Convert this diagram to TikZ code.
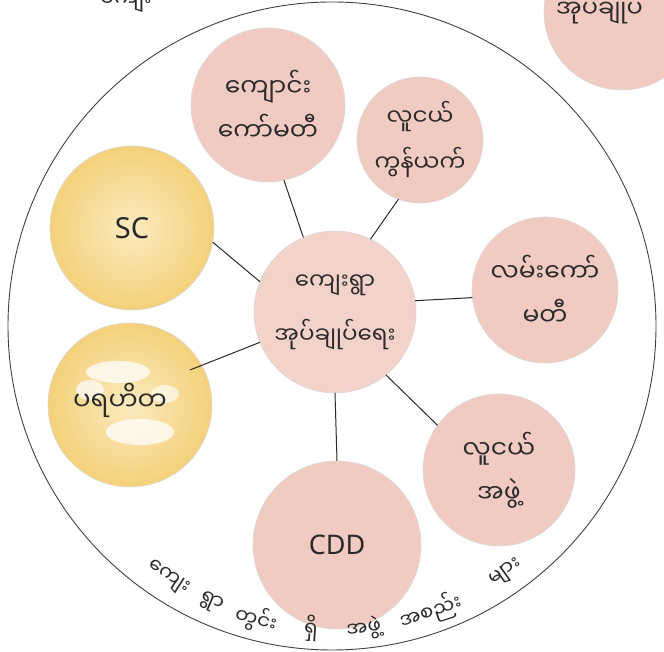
\documentclass[tikz,border=0pt]{standalone}
\usepackage{fontspec}
\setmainfont{Noto Sans}
\newfontfamily\mm[Script=Myanmar]{Noto Sans Myanmar UI}
\definecolor{pinkA}{HTML}{F1CBC2}
\definecolor{pinkB}{HTML}{F3D2CA}
\definecolor{yelOut}{HTML}{F4D17A}
\definecolor{yelIn}{HTML}{FBEBC0}
\definecolor{ink}{HTML}{2A2A2A}
\begin{document}
\begin{tikzpicture}[x=1pt,y=1pt,
  bub/.style={circle, draw=black!15, line width=0.6pt, inner sep=0pt, outer sep=0pt,
    align=center, text=ink},
  pinkbub/.style={bub, fill=pinkA},
  yelbub/.style={bub, shade, inner color=yelIn, outer color=yelOut},
  conn/.style={draw=ink, line width=1pt},
  arctext/.style={text=ink, font=\mm\fontsize{20}{24}\selectfont, inner sep=0pt}]
\useasboundingbox (0,0) rectangle (664,652);
% outer circle
\node[circle, draw=black!75, line width=0.9pt, minimum size=648pt, inner sep=0pt, outer sep=0pt] (outer) at (332,326) {};
% top-right partial bubble
\node[pinkbub, minimum size=156pt] (tr) at (622,640) {};
\node[anchor=base west, text=ink, font=\mm\fontsize{24}{28}\selectfont, inner sep=0pt] (trt) at (556,634) {အုပ်ချုပ်};
% top-left partial text
\node[anchor=base west, text=ink, font=\mm\fontsize{22}{24}\selectfont, inner sep=0pt] (tlt) at (100,645) {ကျေး};
% bubbles
\node[pinkbub, minimum size=154pt, font=\mm\fontsize{25}{44}\selectfont] (school) at (268,547) {ကျောင်း\\ကော်မတီ};
\node[pinkbub, minimum size=126pt, font=\mm\fontsize{23}{46}\selectfont] (ynet) at (420,512) {လူငယ်\\ကွန်ယက်};
\node[pinkbub, fill=pinkB, minimum size=162pt, font=\mm\fontsize{23}{54}\selectfont] (center) at (335,340) {ကျေးရွာ\\အုပ်ချုပ်ရေး};
\node[pinkbub, minimum size=146pt, font=\mm\fontsize{25}{44}\selectfont] (road) at (545,362) {လမ်းကော်\\မတီ};
\node[pinkbub, minimum size=152pt, font=\mm\fontsize{25}{44}\selectfont] (ygrp) at (499,182) {လူငယ်\\အဖွဲ့};
% CDD bubble: circle drawn as a shape, label as its own node
\path[fill=pinkA, draw=black!15, line width=0.6pt] (337,107) circle (84);
\node[text=ink, font=\fontsize{27}{30}\selectfont, inner sep=1pt] (cdd) at (337,107) {CDD};
\coordinate (cddtop) at (337,191);
\node[yelbub, minimum size=164pt, font=\fontsize{29}{32}\selectfont] (sc) at (132,424) {SC};
\node[yelbub, minimum size=164pt] (phh) at (130,247) {};
\begin{scope}
  \clip (130,247) circle (80);
  \fill[white, opacity=0.75] (118,280) ellipse (32 and 11);
  \fill[white, opacity=0.7] (90,262) ellipse (14 and 10);
  \fill[white, opacity=0.75] (140,220) ellipse (34 and 13);
  \fill[white, opacity=0.6] (165,258) ellipse (14 and 9);
\end{scope}
\node[text=ink, font=\mm\fontsize{26}{30}\selectfont, inner sep=0pt] (phht) at (120,252) {ပရဟိတ};
% connectors
\draw[conn] (school.282) -- (center.113);
\draw[conn] (ynet.250) -- (center.64);
\draw[conn] (sc.350) -- (center.158);
\draw[conn] (center.8) -- (road.186);
\draw[conn] (center.309) -- (ygrp.144);
\draw[conn] (center.270) -- (cddtop);
\coordinate (pe) at (190,282);
\draw[conn] (pe) -- (center.202);
% bottom arc text
\node[arctext, rotate=-32.7] (w1) at ([shift={(332,326)}]-123:301) {ကျေး};
\node[arctext, rotate=-23.5] (w2) at ([shift={(332,326)}]-113.5:302) {ရွာ};
\node[arctext, rotate=-14.5] (w3) at ([shift={(332,326)}]-104.5:303) {တွင်း};
\node[arctext, rotate=-4] (w4) at ([shift={(332,326)}]-94:303) {ရှိ};
\node[arctext, rotate=6] (w5) at ([shift={(332,326)}]-84:304) {အဖွဲ့};
\node[arctext, rotate=18.7] (w6) at ([shift={(332,326)}]-71:302) {အစည်း};
\node[arctext, rotate=35.2] (w7) at ([shift={(332,326)}]-54.8:303) {များ};
\end{tikzpicture}
\end{document}
